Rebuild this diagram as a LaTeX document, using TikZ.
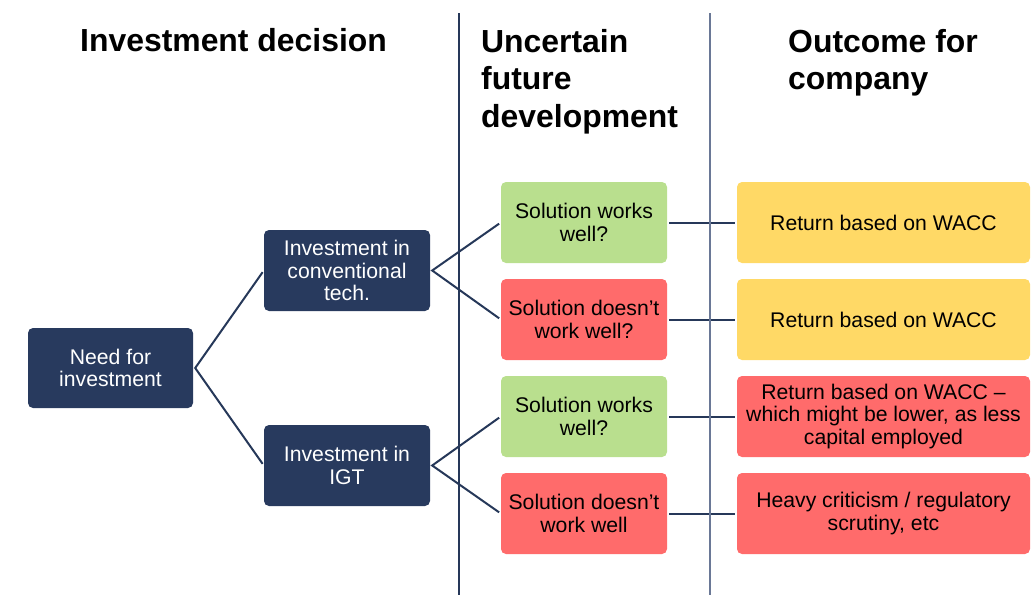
\documentclass[tikz,border=0pt]{standalone}
\usepackage{fontspec}
\setmainfont{Liberation Sans}
\definecolor{navy}{HTML}{283A5E}
\definecolor{navyline}{HTML}{263859}
\definecolor{sepgrey}{HTML}{6A7896}
\definecolor{okgreen}{HTML}{B9DF8E}
\definecolor{badred}{HTML}{FF6B6B}
\definecolor{midyellow}{HTML}{FFD966}
\begin{document}
\begin{tikzpicture}[x=1pt,y=-1pt,
  box/.style={rounded corners=5pt, inner sep=0pt, align=center, font=\fontsize{21.2}{22.5}\selectfont},
  navybox/.style={box, fill=navy, text=white, minimum width=166pt, minimum height=81pt},
  devbox/.style={box, minimum width=166pt, minimum height=81pt},
  outbox/.style={box, minimum width=293pt, minimum height=81pt},
  conn/.style={draw=navyline, line width=2pt},
  head/.style={inner sep=0pt, font=\fontsize{31.9}{37.5}\selectfont\bfseries, align=left},
  sep/.style={line width=1.4pt}
]
\useasboundingbox (0,0) rectangle (1031,595);

% headers
\node[head, anchor=base west] (h1) at (80,51) {Investment decision};
\node[head, anchor=north west] (h2) at (481,29) {Uncertain\\future\\development};
\node[head, anchor=north west] (h3) at (788,29) {Outcome for\\company};

% decision nodes
\node[navybox, minimum width=165pt, minimum height=80pt] (need) at (110.5,368) {Need for\\investment};
\node[navybox] (conv) at (347,270.5) {Investment in\\conventional\\tech.};
\node[navybox] (igt) at (347,465.5) {Investment in\\IGT};

% development nodes
\node[devbox, fill=okgreen] (g1) at (584,222.5) {Solution works\\well?};
\node[devbox, fill=badred] (r1) at (584,319.5) {Solution doesn’t\\work well?};
\node[devbox, fill=okgreen] (g2) at (584,416.5) {Solution works\\well?};
\node[devbox, fill=badred] (r2) at (584,513.5) {Solution doesn’t\\work well};

% outcome nodes
\node[outbox, fill=midyellow] (o1) at (883.5,222.5) {Return based on WACC};
\node[outbox, fill=midyellow] (o2) at (883.5,319.5) {Return based on WACC};
\node[outbox, fill=badred] (o3) at (883.5,416.5) {Return based on WACC –\\which might be lower, as less\\capital employed};
\node[outbox, fill=badred] (o4) at (883.5,513.5) {Heavy criticism / regulatory\\scrutiny, etc};

% connectors
\draw[conn, shorten <=2pt, shorten >=2pt] (conv.west) -- ([xshift=2pt]need.east) -- (igt.west);
\draw[conn, shorten <=2pt, shorten >=2pt] (g1.west) -- ([xshift=2pt]conv.east) -- (r1.west);
\draw[conn, shorten <=2pt, shorten >=2pt] (g2.west) -- ([xshift=2pt]igt.east) -- (r2.west);
\draw[conn, shorten <=2pt, shorten >=2pt] (g1.east) -- (o1.west);
\draw[conn, shorten <=2pt, shorten >=2pt] (r1.east) -- (o2.west);
\draw[conn, shorten <=2pt, shorten >=2pt] (g2.east) -- (o3.west);
\draw[conn, shorten <=2pt, shorten >=2pt] (r2.east) -- (o4.west);

% separators
\coordinate (s1t) at (459,13);
\coordinate (s1b) at (459,595);
\coordinate (s2t) at (710,13);
\coordinate (s2b) at (710,595);
\draw[sep, navyline] (s1t) -- (s1b);
\draw[sep, sepgrey] (s2t) -- (s2b);
\end{tikzpicture}
\end{document}
